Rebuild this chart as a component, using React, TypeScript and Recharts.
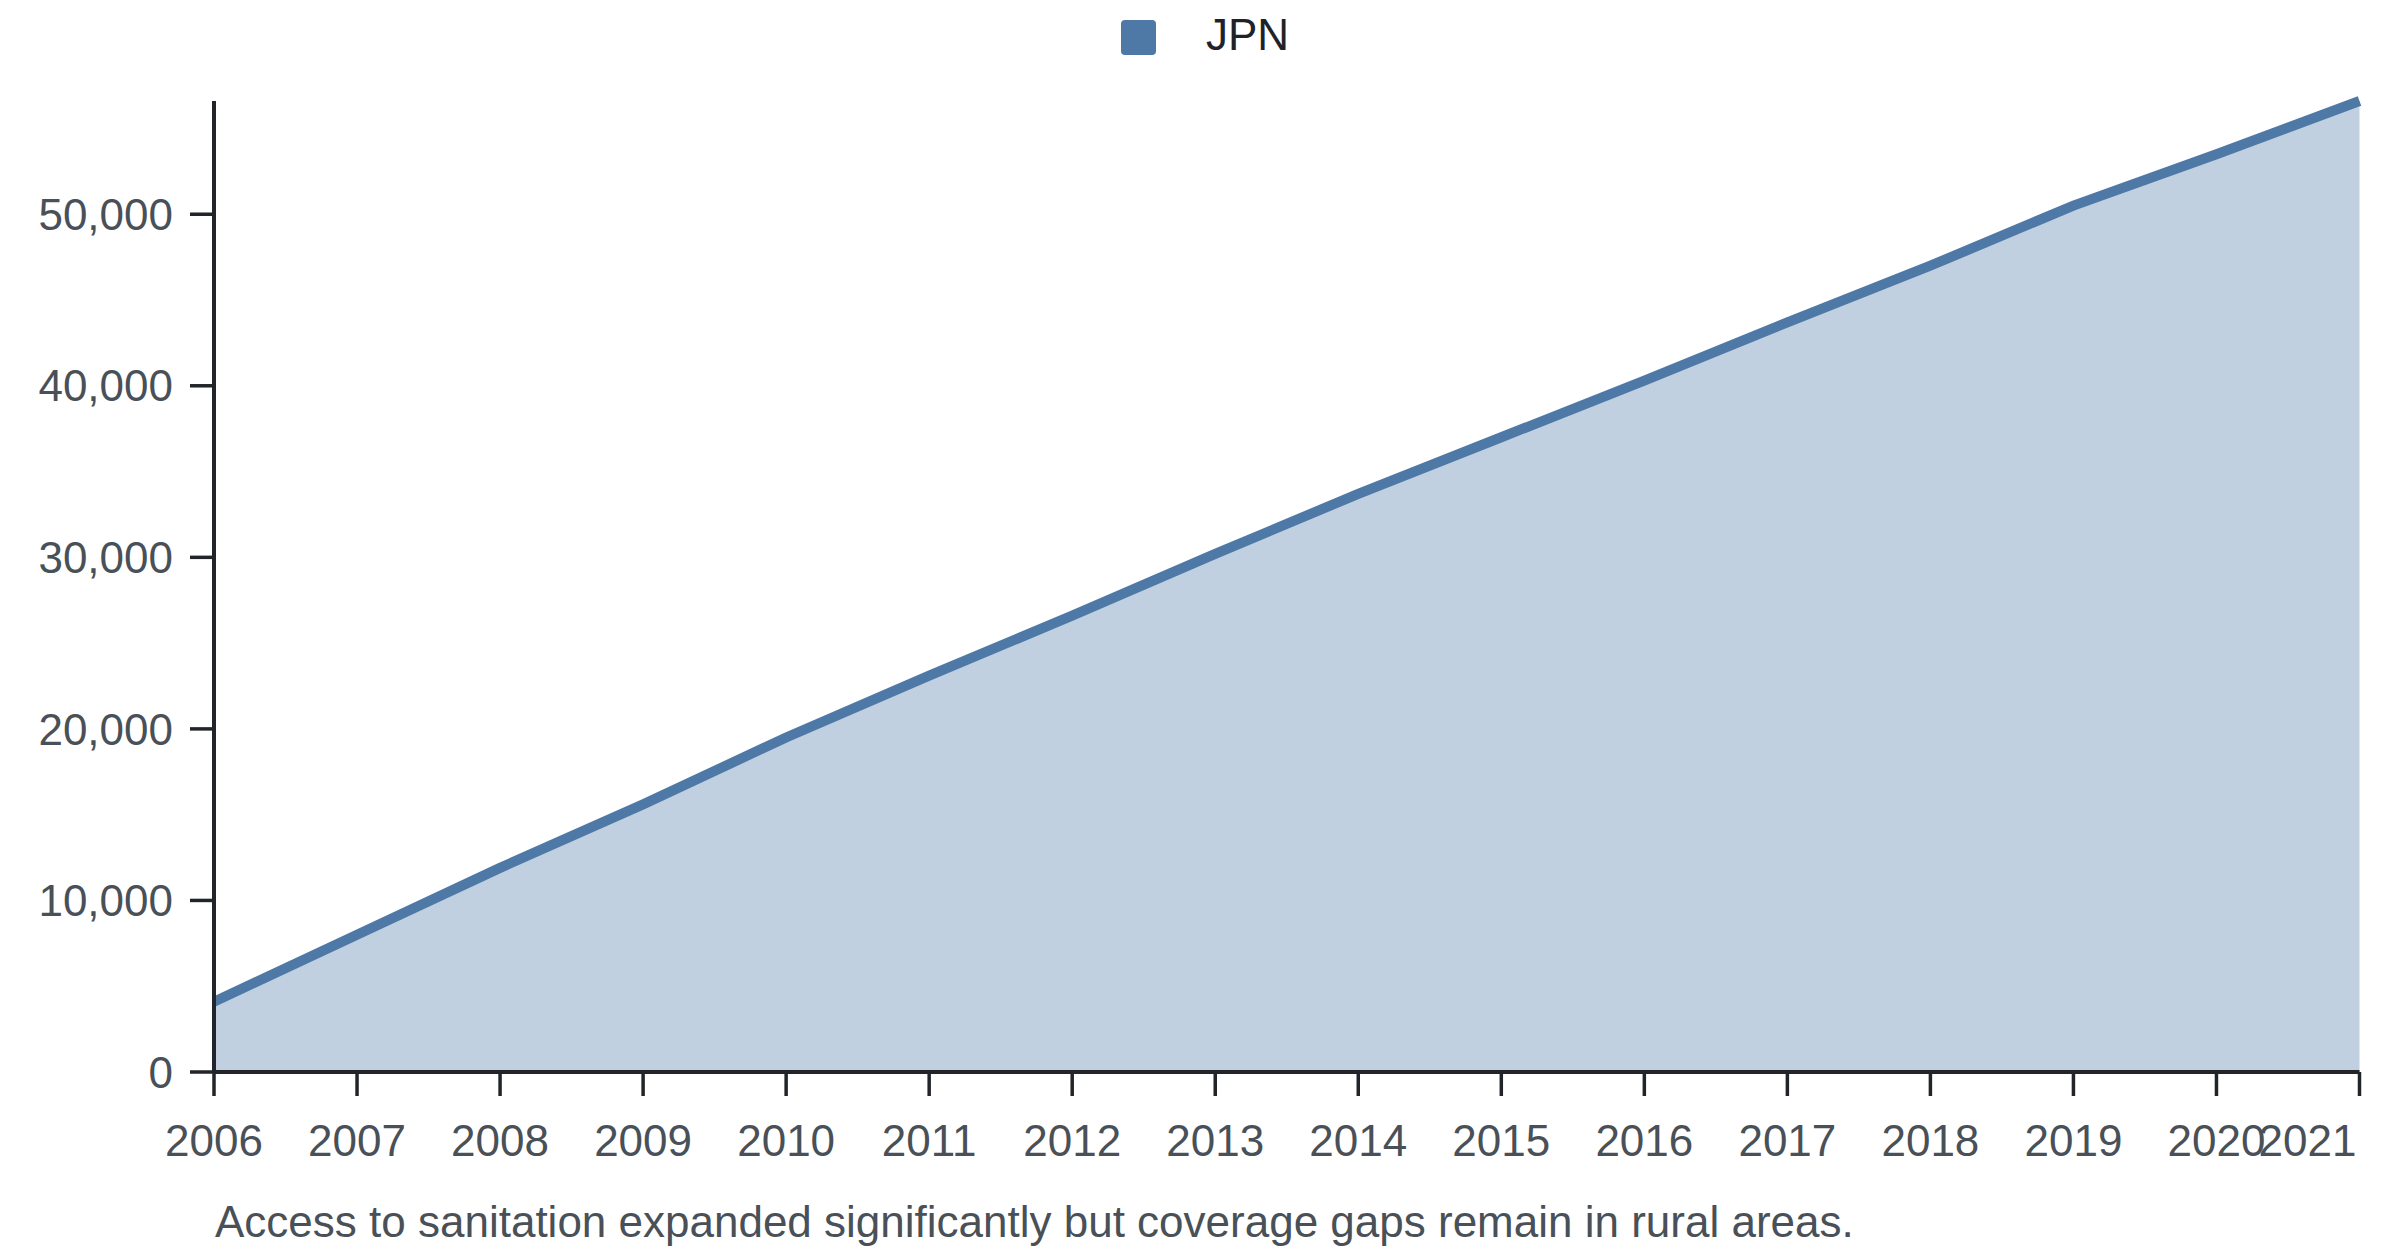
import React from "react";
import { AreaChart, Area, XAxis, YAxis, Legend } from "recharts";

const years = [2006, 2007, 2008, 2009, 2010, 2011, 2012, 2013, 2014, 2015, 2016, 2017, 2018, 2019, 2020, 2021];
const jpnValues = [4100, 8000, 11900, 15600, 19500, 23100, 26600, 30200, 33700, 37000, 40300, 43700, 47000, 50500, 53500, 56600];
const yTicks = [0, 10000, 20000, 30000, 40000, 50000];
const seriesName = "JPN";
const caption = "Access to sanitation expanded significantly but coverage gaps remain in rural areas.";

const data = years.map((y, i) => ({ year: y, value: jpnValues[i] }));

const FONT = "'Liberation Sans', Arial, Helvetica, sans-serif";
const BLUE = "#4e79a7";
const AXIS = "#212529";
const TICK = "#495057";

const fmt = (v: number) => v.toLocaleString("en-US");

const XTick = (props: any) => {
  const { x, y, payload } = props;
  const last = payload.value === years[years.length - 1];
  return (
    <text
      x={last ? x - 3 : x}
      y={y}
      dy="0.71em"
      textAnchor={last ? "end" : "middle"}
      fill={TICK}
      fontSize={44}
      fontFamily={FONT}
    >
      {payload.value}
    </text>
  );
};

const LegendContent = () => (
  <div
    style={{
      display: "flex",
      justifyContent: "center",
      alignItems: "center",
      height: 70,
      width: 2400,
      paddingLeft: 10,
      boxSizing: "border-box",
      fontFamily: FONT,
    }}
  >
    <span
      style={{
        display: "inline-block",
        width: 35,
        height: 35,
        background: BLUE,
        borderRadius: 4,
        marginRight: 50,
        marginTop: 4,
      }}
    />
    <span style={{ fontSize: 44, color: "#1f2328", lineHeight: "44px" }}>{seriesName}</span>
  </div>
);

const CaptionLabel = (props: any) => {
  const vb = props.viewBox || { x: 214, y: 1072 };
  return (
    <text x={vb.x + 1} y={vb.y + 165} fill={TICK} fontSize={44} fontFamily={FONT} textAnchor="start">
      {caption}
    </text>
  );
};

export default function App() {
  return (
    <div style={{ position: "absolute", left: 0, top: 0, width: 2400, height: 1256, background: "#fff" }}>
      <AreaChart
        width={2400}
        height={1256}
        data={data}
        margin={{ top: 31, right: 40.5, bottom: 0, left: 0 }}
      >
        <Legend
          verticalAlign="top"
          content={<LegendContent />}
          wrapperStyle={{ top: 0, left: 0, width: 2400, height: 70 }}
        />
        <XAxis
          dataKey="year"
          type="number"
          domain={[years[0], years[years.length - 1]]}
          ticks={years}
          interval={0}
          height={184}
          tickSize={24}
          tickMargin={29}
          axisLine={{ stroke: AXIS, strokeWidth: 4 }}
          tickLine={{ stroke: AXIS, strokeWidth: 3.5 }}
          tick={<XTick />}
          label={<CaptionLabel />}
        />
        <YAxis
          type="number"
          domain={[0, "dataMax"]}
          ticks={yTicks}
          interval={0}
          width={214}
          tickSize={24}
          tickMargin={17}
          tickFormatter={fmt}
          axisLine={{ stroke: AXIS, strokeWidth: 4 }}
          tickLine={{ stroke: AXIS, strokeWidth: 3.5 }}
          tick={{ fill: TICK, fontSize: 44, fontFamily: FONT }}
        />
        <Area
          type="linear"
          dataKey="value"
          name={seriesName}
          stroke={BLUE}
          strokeWidth={10}
          fill={BLUE}
          fillOpacity={0.35}
          dot={false}
          activeDot={false}
          isAnimationActive={false}
        />
      </AreaChart>
    </div>
  );
}
